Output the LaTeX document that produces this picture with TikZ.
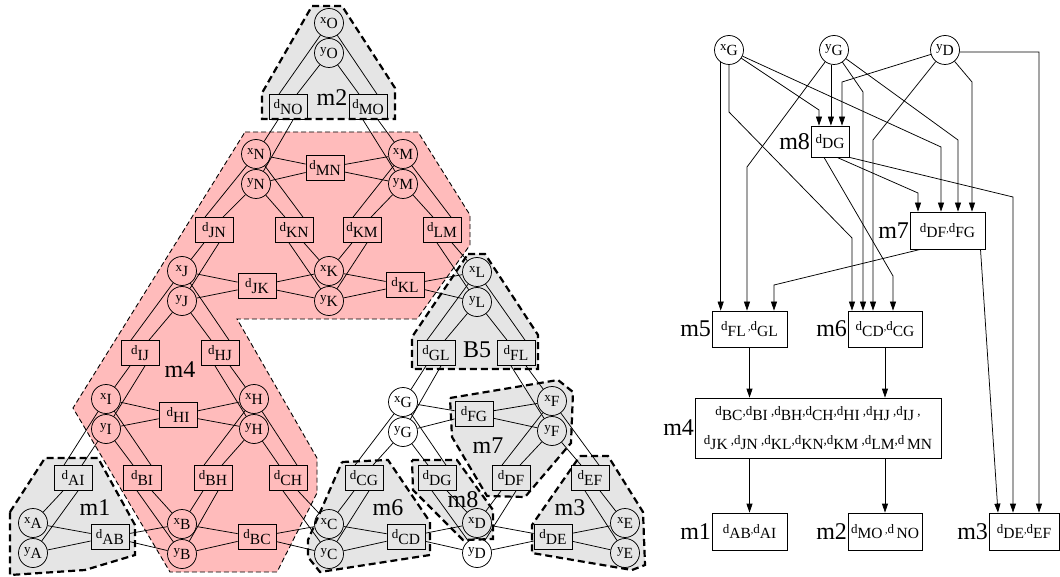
\documentclass[tikz,border=0pt]{standalone}
\usepackage{fontspec}
\setmainfont{Liberation Serif}
\usetikzlibrary{arrows.meta}
\definecolor{grayfill}{RGB}{229,229,229}
\definecolor{pinkfill}{RGB}{255,187,187}
\newcommand\dl[1]{{\fontsize{13}{13}\selectfont d}\raisebox{-5.5pt}{\fontsize{15.5}{15.5}\selectfont #1}}
\newcommand\cl[2]{{\fontsize{13}{13}\selectfont #1}\raisebox{-5.5pt}{\fontsize{15.5}{15.5}\selectfont #2}}
\begin{document}
\begin{tikzpicture}[x=1pt,y=-1pt,
 cir/.style={circle,draw,line width=0.75pt,minimum size=29pt,inner sep=0pt},
 box/.style={rectangle,draw,line width=0.75pt,minimum width=38pt,minimum height=25pt,inner sep=0pt},
 rbox/.style={rectangle,draw,line width=0.75pt,minimum height=37pt,inner sep=0pt},
 edge/.style={line width=0.75pt},
 greg/.style={fill=grayfill,draw=black,line width=2.2pt,dash pattern=on 7pt off 4pt},
 preg/.style={fill=pinkfill,draw=black,line width=0.9pt,dash pattern=on 5pt off 3pt},
 mlab/.style={font=\fontsize{24}{24}\selectfont,inner sep=0.5pt},
 arr/.style={line width=0.75pt,-{Triangle[length=9pt,width=6pt]}}]
\useasboundingbox (0,0) rectangle (1060,577);
% regions
\draw[preg] (245,132) -- (418,132) -- (470,215) -- (470,245) -- (417,319) -- (237,319) -- (317,458) -- (317,493) -- (277,572) -- (170,572) -- (73,408) -- cycle;
\draw[greg] (312,6) -- (342,6) -- (395,88) -- (395,119) -- (262,119) -- (262,93) -- cycle;
\draw[greg] (10,512) -- (45,458) -- (98,458) -- (135,525) -- (135,555) -- (85,570) -- (10,575) -- cycle;
\draw[greg] (342,462) -- (388,460) -- (430,522) -- (430,555) -- (320,572) -- (308,557) -- (308,540) -- cycle;
\draw[greg] (412,460) -- (457,460) -- (493,510) -- (493,539) -- (463,540) -- (413,490) -- cycle;
\draw[greg] (450,398) -- (558,380) -- (573,392) -- (571,443) -- (525,497) -- (487,496) -- (452,437) -- cycle;
\draw[greg] (580,456) -- (608,456) -- (643,512) -- (645,565) -- (632,570) -- (532,553) -- (532,525) -- cycle;
\draw[greg] (468,254) -- (485,254) -- (538,335) -- (538,369) -- (412,369) -- (412,337) -- cycle;
% region labels
\node[mlab] (lm2) at (332,98) {m2};
\node[mlab] (lb5) at (477,350) {B5};
\node[mlab] (lm4) at (180,370) {m4};
\node[mlab] (lm1) at (95,508) {m1};
\node[mlab] (lm7) at (488,446) {m7};
\node[mlab] (lm6) at (388,508) {m6};
\node[mlab] (lm8) at (463,500) {m8};
\node[mlab] (lm3) at (570,508) {m3};
% circles
\foreach \n/\p/\px/\py in {O/O/329/23, N/N/256/154, M/M/403/154, J/J/182/271, K/K/329/271, L/L/477/272,
  I/I/106/399, H/H/254/399, A/A/33/523, B/B/182/524, C/C/329/524, G/G/403/402, F/F/552/401, D/D/477/523, E/E/625/523}{
  \node[cir] (x\n) at (\px,\py) {\cl{x}{\p}};
  \node[cir] (y\n) at (\px,\py+30) {\cl{y}{\p}};
}
% boxes
\foreach \n/\px/\py in {NO/288/107, MO/368/107, MN/325/168, JN/214/230, KN/294/230, KM/362/230, LM/442/230,
  JK/257/286, KL/405/285, GL/436/353, FL/516/353, IJ/140/353, HJ/220/353, HI/178/415,
  AI/73/478, BI/142/478, BH/213/478, CH/288/478, AB/110/537, BC/257/537, CD/406/537, DE/553/537,
  FG/474/414, CG/364/478, DG/437/478, DF/511/478, EF/590/478}{
  \node[box] (d\n) at (\px,\py) {\dl{\n}};
}
% vertical-type edges
\foreach \b/\a/\s/\c in {
dNO/north/-9/xO, dNO/north/9/yO, dNO/south/-10/xN, dNO/south/5/yN,
dMO/north/9/xO, dMO/north/-9/yO, dMO/south/10/xM, dMO/south/-5/yM,
dJN/north/-9/xN, dJN/north/9/yN, dJN/south/-10/xJ, dJN/south/5/yJ,
dKN/north/9/xN, dKN/north/-9/yN, dKN/south/10/xK, dKN/south/-5/yK,
dKM/north/-9/xM, dKM/north/9/yM, dKM/south/-10/xK, dKM/south/5/yK,
dLM/north/9/xM, dLM/north/-9/yM, dLM/south/10/xL, dLM/south/-5/yL,
dGL/north/-9/xL, dGL/north/9/yL, dGL/south/-10/xG, dGL/south/5/yG,
dFL/north/9/xL, dFL/north/-9/yL, dFL/south/10/xF, dFL/south/-5/yF,
dIJ/north/-9/xJ, dIJ/north/9/yJ, dIJ/south/-10/xI, dIJ/south/5/yI,
dHJ/north/9/xJ, dHJ/north/-9/yJ, dHJ/south/10/xH, dHJ/south/-5/yH,
dAI/north/-9/xI, dAI/north/9/yI, dAI/south/-10/xA, dAI/south/5/yA,
dBI/north/9/xI, dBI/north/-9/yI, dBI/south/10/xB, dBI/south/-5/yB,
dBH/north/-9/xH, dBH/north/9/yH, dBH/south/-10/xB, dBH/south/5/yB,
dCH/north/9/xH, dCH/north/-9/yH, dCH/south/10/xC, dCH/south/-5/yC,
dCG/north/-9/xG, dCG/north/9/yG, dCG/south/-10/xC, dCG/south/5/yC,
dDG/north/9/xG, dDG/north/-9/yG, dDG/south/10/xD, dDG/south/-5/yD,
dDF/north/-9/xF, dDF/north/9/yF, dDF/south/-10/xD, dDF/south/5/yD,
dEF/north/9/xF, dEF/north/-9/yF, dEF/south/10/xE, dEF/south/-5/yE}
  \draw[edge] ([xshift=\s pt]\b.\a) -- (\c);
% horizontal-type edges
\foreach \b/\p/\q in {MN/N/M, JK/J/K, KL/K/L, HI/I/H, FG/G/F, AB/A/B, BC/B/C, CD/C/D, DE/D/E}{
  \draw[edge] (d\b) -- (x\p); \draw[edge] (d\b) -- (y\p);
  \draw[edge] (d\b) -- (x\q); \draw[edge] (d\b) -- (y\q);
}
% ---------- right graph ----------
\node[cir] (RxG) at (729,50) {\cl{x}{G}};
\node[cir] (RyG) at (834,50) {\cl{y}{G}};
\node[cir] (RyD) at (945,50) {\cl{y}{D}};
\node[rbox,minimum width=38pt,minimum height=31pt] (RdDG) at (830,141.5) {\dl{DG}};
\node[rbox,minimum width=75pt] (Rm7) at (947.5,230.5) {\dl{DF},\dl{FG}};
\node[rbox,minimum width=75pt,minimum height=36pt] (Rm5) at (749.5,329) {\dl{FL} ,\dl{GL}};
\node[rbox,minimum width=74pt,minimum height=36pt] (Rm6) at (885,329) {\dl{CD},\dl{CG}};
\node[rbox,minimum width=246pt,minimum height=60pt,align=center,font=\fontsize{13}{29}\selectfont] (Rm4) at (818,428)
  {\dl{BC},\dl{BI} ,\dl{BH},\dl{CH},\dl{HI} ,\dl{HJ} ,\dl{IJ} ,\\ \dl{JK} ,\dl{JN} ,\dl{KL},\dl{KN},\dl{KM} ,\dl{LM},\dl{\,MN}};
\node[rbox,minimum width=75pt] (Rm1) at (749.5,531.5) {\dl{AB},\dl{AI}};
\node[rbox,minimum width=74pt] (Rm2) at (885,531.5) {\dl{MO} ,\dl{\,NO}};
\node[rbox,minimum width=70pt] (Rm3) at (1024,531.5) {\dl{DE},\dl{EF}};
\node[mlab,anchor=east] (rl8) at (RdDG.west) {m8};
\node[mlab,anchor=east] (rl7) at (Rm7.west) {m7};
\node[mlab,anchor=east] (rl5) at (Rm5.west) {m5};
\node[mlab,anchor=east] (rl6) at (Rm6.west) {m6};
\node[mlab,anchor=east] (rl4) at (Rm4.west) {m4};
\node[mlab,anchor=east] (rl1) at (Rm1.west) {m1};
\node[mlab,anchor=east] (rl2) at (Rm2.west) {m2};
\node[mlab,anchor=east] (rl3) at (Rm3.west) {m3};
% bend points
\coordinate (b1) at (819,110);
\coordinate (b2) at (842,82);
\coordinate (b3) at (941,147);
\coordinate (b4) at (729,112);
\coordinate (b5) at (852,238);
\coordinate (b6) at (747,167);
\coordinate (b7) at (863,92);
\coordinate (b8) at (958,140);
\coordinate (b9) at (873,140);
\coordinate (b10) at (972,82);
\coordinate (b11) at (1039,52);
\coordinate (b12) at (893,276);
\coordinate (b13) at (918,193);
\coordinate (b14) at (1013,197);
\coordinate (b15) at (774,285);
\coordinate (b16) at (998,300);
% arrows into d_DG
\draw[arr] (RxG) -- (b1) -- (b1 |- RdDG.north);
\draw[arr] (RyG.-102) -- (RyG.-102 |- RdDG.north);
\draw[arr] (RyD) -- (b2) -- (b2 |- RdDG.north);
% arrows into m7
\draw[arr] (RxG) -- (b3) -- (b3 |- Rm7.north);
\draw[arr] (RyG) -- (b8) -- (b8 |- Rm7.north);
\draw[arr] (RyD) -- (b10) -- (b10 |- Rm7.north);
\draw[arr] ([xshift=7pt]RdDG.south) -- (b13) -- (b13 |- Rm7.north);
% arrows into m5
\draw[arr] (RxG.-124) -- (RxG.-124 |- Rm5.north);
\draw[arr] (RyG) -- (b6) -- (b6 |- Rm5.north);
\draw[arr] ([xshift=-27pt]Rm7.south) -- (b15) -- (b15 |- Rm5.north);
% arrows into m6
\draw[arr] (RxG.south) -- (b4) -- (b5) -- (b5 |- Rm6.north);
\draw[arr] (RyG) -- (b7) -- (b7 |- Rm6.north);
\draw[arr] (RyD) -- (b9) -- (b9 |- Rm6.north);
\draw[arr] ([xshift=-6pt]RdDG.south) -- (b12) -- (b12 |- Rm6.north);
% arrows into m3
\draw[arr] (RyD.-8) -- (b11) -- (b11 |- Rm3.north);
\draw[arr] (RdDG.south east) -- (b14) -- (b14 |- Rm3.north);
\draw[arr] ([xshift=33pt]Rm7.south) -- (b16 |- Rm3.north);
% m4 chain
\draw[arr] (Rm5.south) -- (Rm5.south |- Rm4.north);
\draw[arr] (Rm6.south) -- (Rm6.south |- Rm4.north);
\draw[arr] (Rm1.north |- Rm4.south) -- (Rm1.north);
\draw[arr] (Rm2.north |- Rm4.south) -- (Rm2.north);
\end{tikzpicture}
\end{document}
